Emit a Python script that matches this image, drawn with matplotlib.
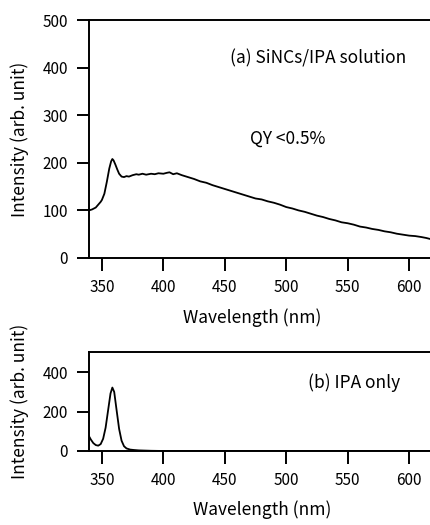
import matplotlib
matplotlib.use('Agg')
import matplotlib.pyplot as plt

plt.rcParams['font.family'] = ['Noto Sans CJK JP', 'DejaVu Sans']
plt.rcParams['font.size'] = 11

# (a) SiNCs/IPA solution
wl_a = [339.5, 342, 345, 347, 349, 350, 352, 354, 356, 357.5, 358.5, 359.5, 361, 362.5,
        364, 366, 368, 370, 372, 375, 378, 380, 383, 386, 390, 393, 396, 400, 403,
        405, 408, 411, 415, 420, 425, 430, 435, 440, 445, 450, 455, 460, 465, 470,
        475, 480, 485, 490, 495, 500, 505, 510, 515, 520, 525, 530, 535, 540, 545,
        550, 555, 560, 565, 570, 575, 580, 585, 590, 595, 600, 605, 610, 614, 617]
int_a = [100, 102, 106, 112, 118, 122, 135, 160, 188, 203, 208, 205, 196, 186,
         177, 171, 170, 172, 171, 174, 176, 175, 177, 175, 177, 176, 178, 177, 179,
         180, 176, 178, 174, 170, 166, 161, 158, 153, 149, 145, 141, 137, 133, 129,
         125, 123, 119, 116, 112, 107, 104, 100, 97, 93, 89, 86, 82, 79, 75,
         73, 70, 66, 64, 61, 59, 56, 54, 51, 49, 47, 46, 44, 42, 40]

# (b) IPA only
wl_b = [339.5, 341, 343, 345, 347, 349, 351, 353, 355, 357, 358.5, 360, 362, 364,
        366, 368, 370, 373, 376, 380, 385, 390, 400, 617]
int_b = [75, 58, 40, 30, 27, 35, 62, 118, 205, 292, 322, 300, 205, 112,
         52, 24, 13, 7, 5, 3, 2, 1, 0, 0]

LABEL_FS = 12.5

fig = plt.figure(figsize=(4.3, 5.25), dpi=100)
ax1 = fig.add_axes([0.207, 0.5086, 0.793, 0.4533])
ax2 = fig.add_axes([0.207, 0.1410, 0.793, 0.1876])

for ax in (ax1, ax2):
    ax.set_xlim(339.5, 617)
    ax.set_ylim(0, 500)
    ax.spines['right'].set_visible(False)
    for s in ('left', 'top', 'bottom'):
        ax.spines[s].set_linewidth(1.4)
    ax.tick_params(direction='out', length=9, width=1.4, pad=6, labelsize=11)
    ax.tick_params(axis='x', top=False)
    ax.tick_params(axis='y', right=False)
    ax.set_xticks([350, 400, 450, 500, 550, 600])
    ax.set_ylabel('Intensity (arb. unit)', fontsize=LABEL_FS)
    ax.set_xlabel('Wavelength (nm)', fontsize=LABEL_FS)
    ax.yaxis.set_label_coords(-0.175, 0.5)

# 위 패널
ax1.plot(wl_a, int_a, color='black', lw=1.3)
ax1.set_yticks([0, 100, 200, 300, 400, 500])
ax1.xaxis.set_label_coords(0.478, -0.21)
fig.text(230 / 430, 1 - 58 / 525, '(a) SiNCs/IPA solution', fontsize=LABEL_FS, va='center')
fig.text(250 / 430, 1 - 139 / 525, 'QY <0.5%', fontsize=LABEL_FS, va='center')

# 아래 패널
ax2.plot(wl_b, int_b, color='black', lw=1.3)
ax2.set_yticks([0, 200, 400])
ax2.xaxis.set_label_coords(0.508, -0.50)
fig.text(308 / 430, 1 - 383 / 525, '(b) IPA only', fontsize=LABEL_FS, va='center')

fig.savefig('out.png', dpi=100, facecolor='white')
